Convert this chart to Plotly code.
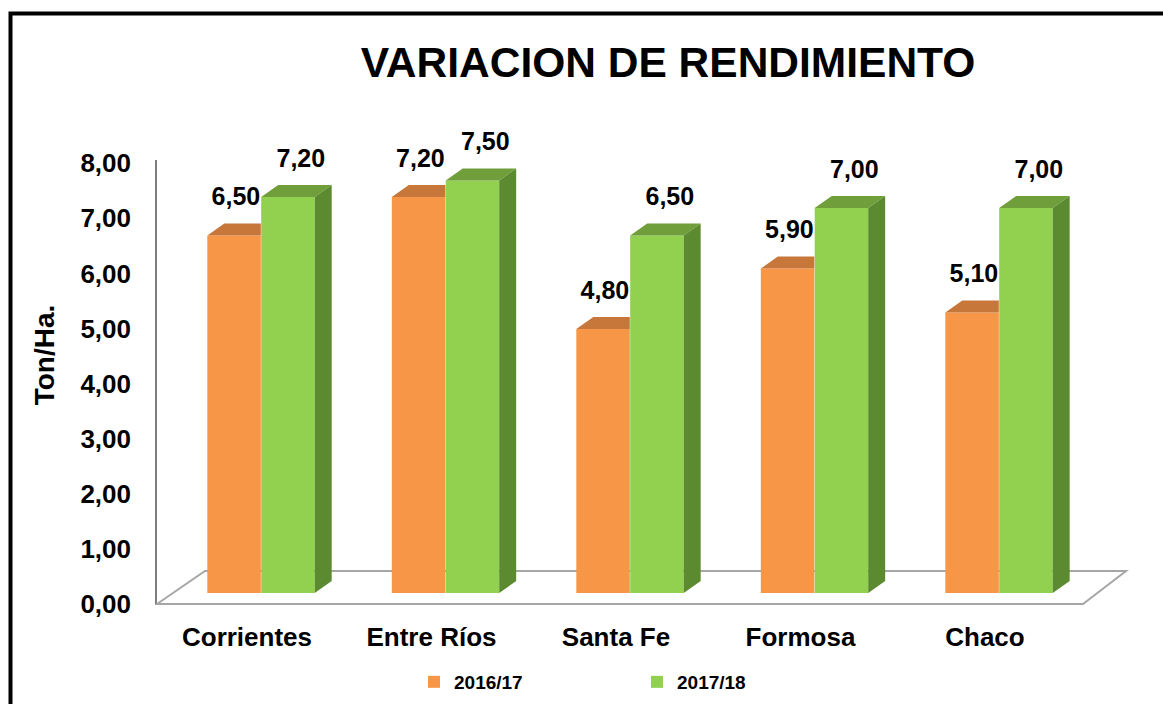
import plotly.graph_objects as go

categories = ["Corrientes", "Entre Ríos", "Santa Fe", "Formosa", "Chaco"]
series_names = ["2016/17", "2017/18"]
v1617 = [6.50, 7.20, 4.80, 5.90, 5.10]
v1718 = [7.20, 7.50, 6.50, 7.00, 7.00]
tick_values = [0, 1, 2, 3, 4, 5, 6, 7, 8]
tick_labels = ["0,00", "1,00", "2,00", "3,00", "4,00", "5,00", "6,00", "7,00", "8,00"]

def fmt(v):
    return f"{v:.2f}".replace(".", ",")

# style / geometry constants
W, H = 1163, 704
ML, MR, MT, MB = 155, 33, 100, 94
PW, PH = W - ML - MR, H - MT - MB
XR = [-0.4986, 4.786]
YR = [-0.309, 8.964]          # bar axis (front faces)
Y2R = [-0.109, 9.147]         # tick axis
BW = 0.29
OFF_O, OFF_G = -0.07, 0.222
DX, DY = 0.092, 0.218         # 3D depth offsets in data units

C_O, C_O_TOP = "#F79646", "#C8773B"
C_G, C_G_TOP, C_G_SIDE = "#92D050", "#6F9E3A", "#5B8A30"
FONT = "Liberation Sans"

xo = [i + OFF_O for i in range(len(categories))]
xg = [i + OFF_G for i in range(len(categories))]

fig = go.Figure()
fig.add_trace(go.Bar(x=xo, y=v1617, width=BW, name=series_names[0],
                     marker=dict(color=C_O, line=dict(width=0)), hoverinfo="y"))
fig.add_trace(go.Bar(x=xg, y=v1718, width=BW, name=series_names[1],
                     marker=dict(color=C_G, line=dict(width=0)), hoverinfo="y"))

# 3D faces computed from the data
otx, oty, gtx, gty, gsx, gsy = [], [], [], [], [], []
for i in range(len(categories)):
    o, g = v1617[i], v1718[i]
    l, r = xo[i] - BW / 2, xo[i] + BW / 2
    if g >= o + DY:
        otx += [l, r, r, l + DX, l, None]
        oty += [o, o, o + DY, o + DY, o, None]
    else:
        otx += [l, r, r + DX, l + DX, l, None]
        oty += [o, o, o + DY, o + DY, o, None]
    l, r = xg[i] - BW / 2, xg[i] + BW / 2
    gtx += [l, r, r + DX, l + DX, l, None]
    gty += [g, g, g + DY, g + DY, g, None]
    gsx += [r, r + DX, r + DX, r, r, None]
    gsy += [0, DY, g + DY, g, 0, None]

for xs, ys, c in [(otx, oty, C_O_TOP), (gtx, gty, C_G_TOP), (gsx, gsy, C_G_SIDE)]:
    fig.add_trace(go.Scatter(x=xs, y=ys, fill="toself", fillcolor=c, mode="none",
                             showlegend=False, hoverinfo="skip"))

fig.add_trace(go.Scatter(x=[x + 0.01 for x in xo], y=[v + 0.66 for v in v1617],
                         text=[fmt(v) for v in v1617], mode="text", showlegend=False,
                         textfont=dict(family=FONT, size=25, color="black", weight="bold"),
                         cliponaxis=False, hoverinfo="skip"))
fig.add_trace(go.Scatter(x=[x + 0.07 for x in xg], y=[v + 0.66 for v in v1718],
                         text=[fmt(v) for v in v1718], mode="text", showlegend=False,
                         textfont=dict(family=FONT, size=25, color="black", weight="bold"),
                         cliponaxis=False, hoverinfo="skip"))

def px_x(p):
    return (p - ML) / PW

def px_y(q):
    return (H - MB - q) / PH

def dx_of(p):
    return XR[0] + (p - ML) / PW * (XR[1] - XR[0])

def dy_of(q):
    return YR[0] + (H - MB - q) / PH * (YR[1] - YR[0])

# floor parallelogram
fx = [dx_of(157), dx_of(1083), dx_of(1126), dx_of(205)]
fy = [dy_of(604), dy_of(604), dy_of(571), dy_of(571)]
path = "M {} {} L {} {} L {} {} L {} {} Z".format(fx[0], fy[0], fx[1], fy[1], fx[2], fy[2], fx[3], fy[3])
shapes = [
    dict(type="path", path=path, xref="x", yref="y", layer="below",
         line=dict(color="#A6A6A6", width=2), fillcolor="white"),
    dict(type="line", xref="paper", yref="paper", x0=px_x(156), x1=px_x(156),
         y0=px_y(160), y1=px_y(605), line=dict(color="#7F7F7F", width=2), layer="below"),
    dict(type="rect", xref="paper", yref="paper", x0=px_x(10.5), x1=px_x(1180),
         y0=px_y(720), y1=px_y(13.5), line=dict(color="black", width=4), layer="below"),
]

fig.update_layout(
    width=W, height=H,
    margin=dict(l=ML, r=MR, t=MT, b=MB, autoexpand=False),
    paper_bgcolor="white", plot_bgcolor="rgba(0,0,0,0)",
    barmode="overlay",
    shapes=shapes,
    title=dict(text="VARIACION DE RENDIMIENTO", x=668 / W, y=1 - 62 / H,
               xref="container", yref="container", xanchor="center", yanchor="middle",
               font=dict(family=FONT, size=42.5, color="black", weight="bold")),
    xaxis=dict(range=XR, tickvals=list(range(len(categories))), ticktext=categories,
               showgrid=False, zeroline=False, showline=False, ticks="",
               ticklabelstandoff=9, automargin=False,
               tickfont=dict(family=FONT, size=26, color="black", weight="bold")),
    yaxis=dict(range=YR, showgrid=False, zeroline=False, showline=False,
               showticklabels=False, ticks="", automargin=False),
    yaxis2=dict(range=Y2R, overlaying="y", side="left", tickvals=tick_values,
                ticktext=tick_labels, showgrid=False, zeroline=False, showline=False,
                ticks="", ticklabelstandoff=23, automargin=False,
                tickfont=dict(family=FONT, size=26, color="black", weight="bold"),
                title=dict(text="Ton/Ha.", standoff=17,
                           font=dict(family=FONT, size=28, color="black", weight="bold"))),
    legend=dict(orientation="h", x=414 / W, y=1 - 663 / H, xref="container", yref="container",
                xanchor="left", yanchor="top",
                entrywidth=178, entrywidthmode="pixels", itemwidth=30,
                font=dict(family=FONT, size=19, color="black", weight="bold"),
                bgcolor="rgba(0,0,0,0)"),
    showlegend=True,
)
fig.add_trace(go.Scatter(x=[None], y=[None], yaxis="y2", showlegend=False, hoverinfo="skip"))

fig.write_html("out.html", config={"displayModeBar": False},
               post_script="document.body.style.margin='0';document.body.style.overflow='hidden';")
